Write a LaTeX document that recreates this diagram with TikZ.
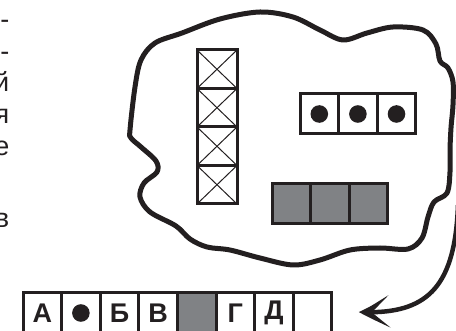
\documentclass[tikz,border=0pt]{standalone}
\usepackage{fontspec}
\setsansfont{Liberation Sans}
\usetikzlibrary{arrows.meta, positioning, calc, bending}
\definecolor{InkBlack}{RGB}{35,31,32}
\definecolor{CellGray}{RGB}{128,130,133}

\begin{document}
\begin{tikzpicture}[
    x=1pt, y=-1pt,
    font=\sffamily,
    cell/.style={draw=InkBlack, line width=3pt, outer sep=0pt, inner sep=0pt, text=InkBlack,
        minimum width=38.6pt, minimum height=40pt, anchor=north west,
        font=\sffamily\bfseries\fontsize{27}{27}\selectfont},
    crossed/.style={cell, minimum width=40pt, minimum height=38.5pt,
        path picture={\draw[InkBlack, line width=1pt]
            (path picture bounding box.north west) -- (path picture bounding box.south east)
            (path picture bounding box.north east) -- (path picture bounding box.south west);}},
    dotcell/.style={cell, path picture={\fill[InkBlack] (path picture bounding box.center) circle (8.8pt);}},
    graycell/.style={cell, fill=CellGray},
    frag/.style={anchor=base east, inner sep=0pt, text=InkBlack, font=\sffamily\fontsize{27}{27}\selectfont},
    blob/.style={draw=InkBlack, line width=5pt, line join=round},
]
\useasboundingbox (0,0) rectangle (456,331);
\clip (0,0) rectangle (456,331);

% ---- cut text on the left ----
\foreach \t/\y [count=\k] in {-/29, -/61, й/92, я/124, е/156, в/228}
    \node[frag] (frag\k) at (9.5,\y) {\t};

% ---- cloud ----
\draw[blob] plot[smooth cycle, tension=0.55] coordinates {
    (130,130) (135,87) (141,60) (155,43) (182,33) (220,19) (260,12) (293,17)
    (320,30) (343,40) (367,33) (393,27) (423,30) (436,44) (440,61) (448,68)
    (453,82) (453,105) (451,128) (450,150) (450,172) (447,193) (434,202)
    (428,217) (422,238) (408,249) (380,248) (350,250) (320,260) (293,265)
    (260,258) (230,250) (207,247) (190,239) (176,226) (150,212) (140,197)
    (144,183) (157,172) (156,161) (141,147) (131,138)};

% ---- crossed column ----
\node[crossed] (x1) at (197,50) {};
\foreach \i/\j in {2/1, 3/2, 4/3}
    \node[crossed, below=0pt of x\j] (x\i) {};

% ---- dots ----
\node[dotcell] (d1) at (300,94) {};
\foreach \i/\j in {2/1, 3/2}
    \node[dotcell, right=0pt of d\j] (d\i) {};

% ---- gray cells ----
\node[graycell] (g1) at (272,184) {};
\foreach \i/\j in {2/1, 3/2}
    \node[graycell, right=0pt of g\j] (g\i) {};

% ---- bottom row ----
\node[cell] (b1) at (23,293) {А};
\node[dotcell, right=0pt of b1] (b2) {};
\node[cell, right=0pt of b2] (b3) {Б};
\node[cell, right=0pt of b3] (b4) {В};
\node[graycell, right=0pt of b4] (b5) {};
\node[cell, right=0pt of b5] (b6) {Г};
\node[cell, right=0pt of b6] (b7) {Д};
\node[cell, right=0pt of b7] (b8) {};

% ---- tail arrow ----
\coordinate (tailstart) at (458,205);
\coordinate (tailend) at ($(b8.north east)+(27,19)$);
\draw[InkBlack, line width=4.5pt, -{Stealth[length=32pt, width=32pt, inset=19pt, bend]}]
    (tailstart) .. controls (455,290) and (425,315) .. (tailend);

\end{tikzpicture}
\end{document}
